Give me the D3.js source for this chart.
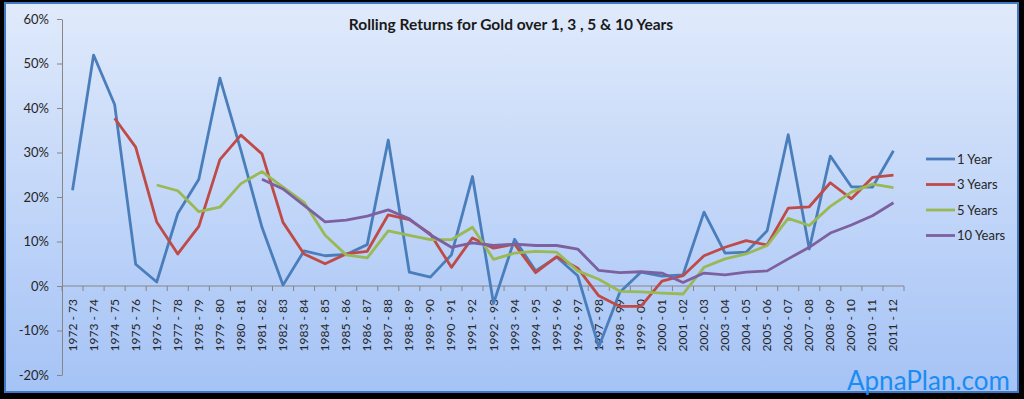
<!DOCTYPE html>
<html>
<head>
<meta charset="utf-8">
<script src="https://cdn.jsdelivr.net/npm/d3@7"></script>
<style>
  html, body { margin: 0; padding: 0; background: #000; }
  svg { display: block; }
  text { font-family: Lato, "Liberation Sans", sans-serif; }
</style>
</head>
<body>
<div id="main"></div>
<script>
const years = ["1972 - 73", "1973 - 74", "1974 - 75", "1975 - 76", "1976 - 77", "1977 - 78",
  "1978 - 79", "1979 - 80", "1980 - 81", "1981 - 82", "1982 - 83", "1983 - 84", "1984 - 85",
  "1985 - 86", "1986 - 87", "1987 - 88", "1988 - 89", "1989 - 90", "1990 - 91", "1991 - 92",
  "1992 - 93", "1993 - 94", "1994 - 95", "1995 - 96", "1996 - 97", "1997 - 98", "1998 - 99",
  "1999 - 00", "2000 - 01", "2001 - 02", "2002 - 03", "2003 - 04", "2004 - 05", "2005 - 06",
  "2006 - 07", "2007 - 08", "2008 - 09", "2009 - 10", "2010 - 11", "2011 - 12"];

const oneYear = [21.5, 51.9, 40.8, 4.9, 0.9, 16.3, 24.0, 46.7, 30.5, 13.2, 0.2, 7.9, 6.8,
  7.1, 9.3, 32.8, 3.1, 2.0, 7.0, 24.6, -3.9, 10.5, 3.4, 6.5, 2.3, -13.7, -1.4, 3.1, 2.2,
  2.5, 16.6, 7.4, 7.6, 12.4, 34.0, 8.3, 29.2, 22.3, 22.2, 30.4];

const threeYears = [null, null, 37.7, 31.2, 14.4, 7.2, 13.4, 28.4, 33.9, 29.7, 14.3, 7.2,
  5.0, 7.2, 7.8, 16.0, 14.9, 11.7, 4.2, 10.8, 8.5, 9.4, 3.0, 6.6, 4.0, -2.2, -4.6, -4.6,
  1.1, 2.3, 6.8, 8.7, 10.2, 9.2, 17.5, 17.8, 23.2, 19.6, 24.4, 24.9];

const fiveYears = [null, null, null, null, 22.7, 21.4, 16.7, 17.7, 23.0, 25.7, 22.2, 18.8,
  11.4, 7.0, 6.3, 12.4, 11.4, 10.4, 10.4, 13.2, 6.0, 7.4, 7.8, 7.6, 3.4, 1.5, -1.2, -1.3,
  -1.6, -1.8, 4.2, 6.1, 7.2, 9.1, 15.2, 13.6, 17.9, 21.1, 22.9, 22.1];

const tenYears = [null, null, null, null, null, null, null, null, null, 24.0, 21.8, 18.1,
  14.4, 14.8, 15.7, 17.1, 15.1, 11.5, 8.7, 9.7, 9.1, 9.4, 9.1, 9.1, 8.3, 3.5, 3.0, 3.2,
  2.9, 0.8, 2.9, 2.5, 3.1, 3.4, 6.1, 8.7, 11.9, 13.7, 15.8, 18.7];

const seriesNames = ["1 Year", "3 Years", "5 Years", "10 Years"];
const seriesColors = ["#4a7ebb", "#be4b48", "#98b954", "#7d60a0"];
const yTicks = [-20, -10, 0, 10, 20, 30, 40, 50, 60];

const allSeries = [oneYear, threeYears, fiveYears, tenYears];

const width = 1024;
const height = 399;
const margin = { top: 19, right: 120, bottom: 24, left: 62 };

const svg = d3.select("#main").append("svg")
    .attr("width", width)
    .attr("height", height);

const defs = svg.append("defs");
const grad = defs.append("linearGradient")
    .attr("id", "bg")
    .attr("x1", 0).attr("y1", 0).attr("x2", 0).attr("y2", 1);
grad.append("stop").attr("offset", "0%").attr("stop-color", "#e0eafb");
grad.append("stop").attr("offset", "100%").attr("stop-color", "#a5c3f6");

// chart area
svg.append("rect")
    .attr("x", 5)
    .attr("y", 3)
    .attr("width", 1013)
    .attr("height", 389)
    .attr("fill", "url(#bg)")
    .attr("stroke", "#3f78c4")
    .attr("stroke-width", 2);

const x = d3.scaleBand()
    .domain(years)
    .range([margin.left, 904])
    .padding(0);

const y = d3.scaleLinear()
    .domain([-20, 60])
    .range([375, margin.top]);

const cx = d => x(d) + x.bandwidth() / 2;

// title
svg.append("text")
    .attr("x", 511)
    .attr("y", 30)
    .attr("text-anchor", "middle")
    .attr("font-size", 15.5)
    .attr("font-weight", 700)
    .attr("fill", "#1a1a1a")
    .text("Rolling Returns for Gold over 1, 3 , 5 & 10 Years");

// y axis
const yAxis = svg.append("g")
    .attr("transform", `translate(${margin.left},0)`)
    .call(d3.axisLeft(y)
      .tickValues(yTicks)
      .tickFormat(d => d + "%")
      .tickSize(5)
      .tickSizeOuter(0)
      .tickPadding(8));
yAxis.select(".domain").attr("stroke", "#868686");
yAxis.selectAll(".tick line").attr("stroke", "#868686");
yAxis.selectAll(".tick text")
    .attr("font-size", 13)
    .attr("font-family", "Lato, sans-serif")
    .attr("fill", "#262626");

// x axis at 0%
const xAxis = svg.append("g")
    .attr("transform", `translate(0,${y(0)})`);
xAxis.append("line")
    .attr("x1", x.range()[0])
    .attr("x2", x.range()[1])
    .attr("stroke", "#868686");
xAxis.selectAll(".boundary")
    .data(years.concat([null]))
    .enter()
    .append("line")
    .attr("x1", (d, i) => x.range()[0] + i * x.bandwidth())
    .attr("x2", (d, i) => x.range()[0] + i * x.bandwidth())
    .attr("y1", 0)
    .attr("y2", 5)
    .attr("stroke", "#868686");
xAxis.selectAll(".label")
    .data(years)
    .enter()
    .append("text")
    .attr("transform", d => `translate(${cx(d) + 4},13) rotate(-90)`)
    .attr("text-anchor", "end")
    .attr("font-size", 12)
    .attr("fill", "#262626")
    .text(d => d);

// lines
const line = d3.line()
    .defined(d => d != null)
    .x((d, i) => cx(years[i]))
    .y(d => y(d));

svg.append("g")
    .selectAll("path")
    .data(allSeries)
    .enter()
    .append("path")
    .attr("d", line)
    .attr("fill", "none")
    .attr("stroke", (d, i) => seriesColors[i])
    .attr("stroke-width", 2.8)
    .attr("stroke-linejoin", "round");

// legend
const legend = svg.append("g")
    .selectAll("g")
    .data(seriesNames)
    .enter()
    .append("g")
    .attr("transform", (d, i) => `translate(926,${159 + i * 25.5})`);
legend.append("line")
    .attr("x1", 0)
    .attr("x2", 29)
    .attr("stroke", (d, i) => seriesColors[i])
    .attr("stroke-width", 2.8);
legend.append("text")
    .attr("x", 31)
    .attr("y", 4.5)
    .attr("font-size", 13)
    .attr("fill", "#262626")
    .text(d => d);

// watermark
svg.append("text")
    .attr("x", 847)
    .attr("y", 390)
    .attr("font-family", "'Liberation Sans', Arial, sans-serif")
    .attr("font-size", 26)
    .attr("fill", "#1a8cf2")
    .text("ApnaPlan.com");
</script>
</body>
</html>
